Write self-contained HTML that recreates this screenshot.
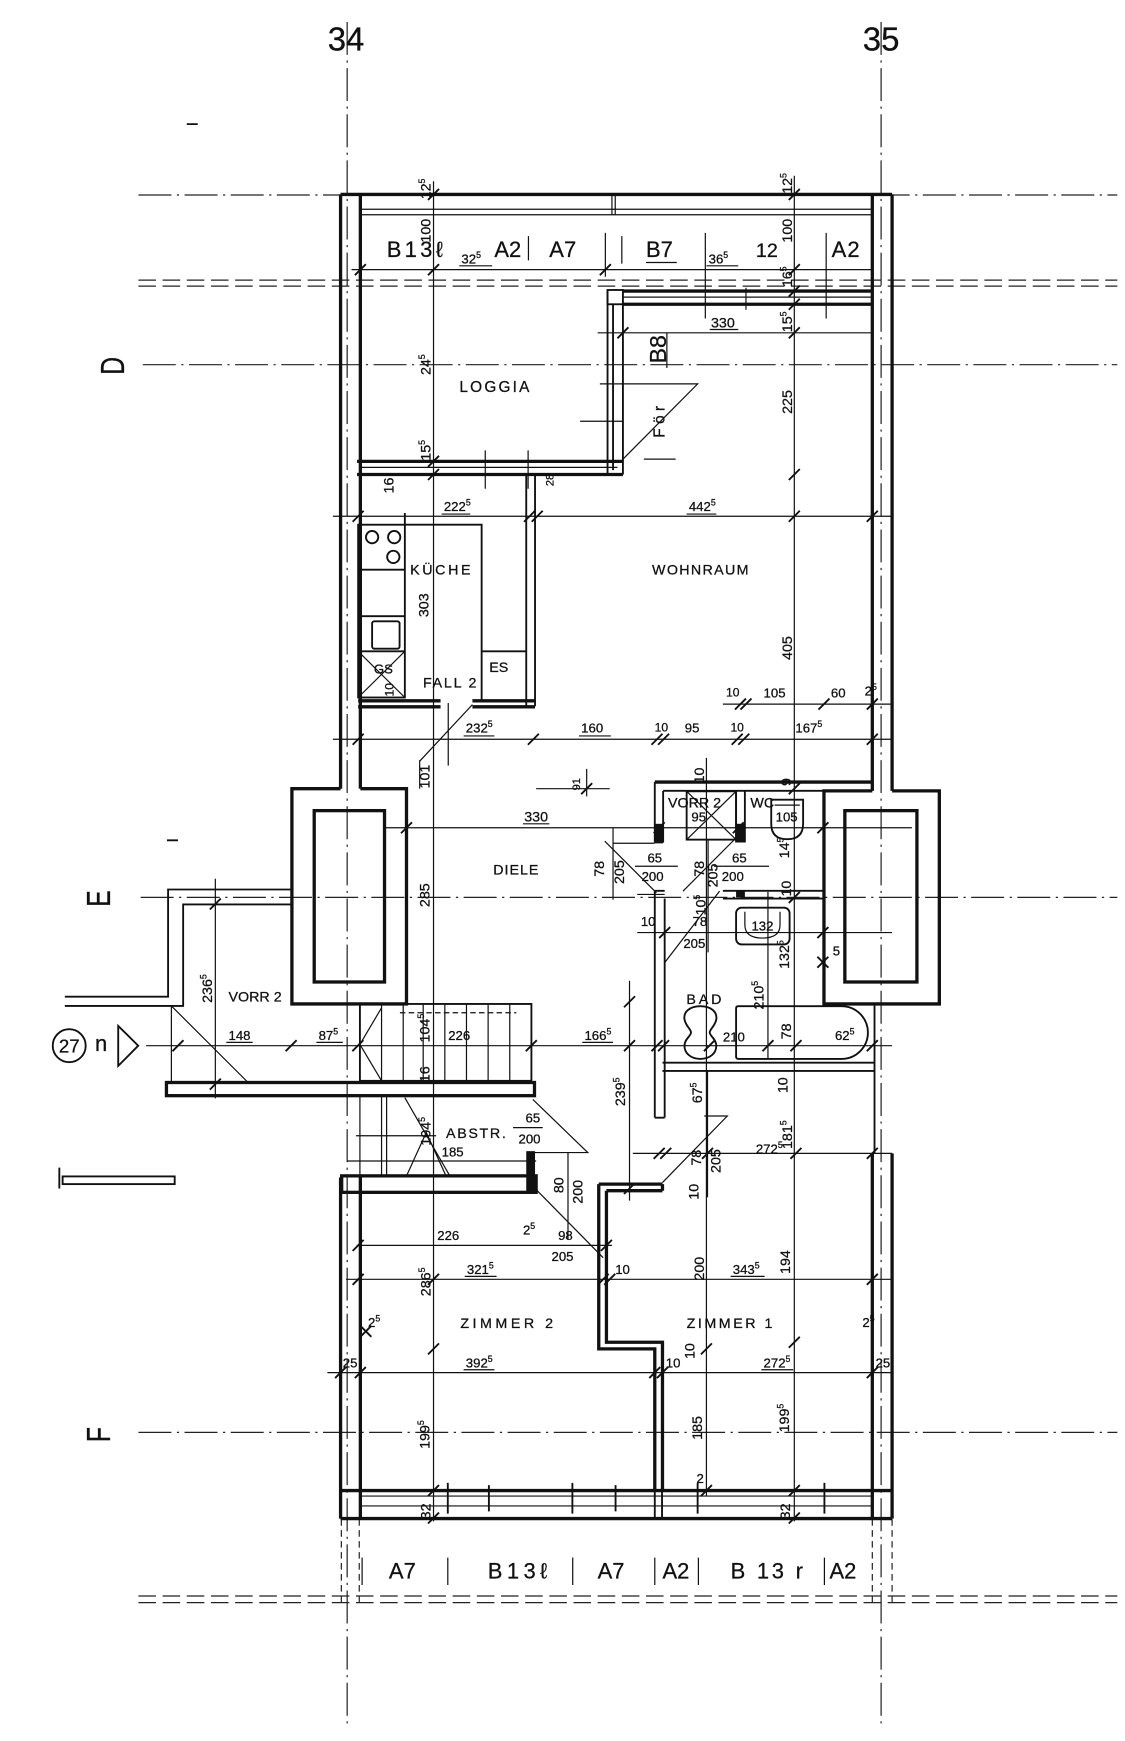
<!DOCTYPE html>
<html><head><meta charset="utf-8"><style>
html,body{margin:0;padding:0;background:#fff;}
svg{display:block}
.t{font-family:"Liberation Sans","DejaVu Sans",sans-serif;fill:#111;stroke:#111;stroke-width:0.25}
.n{font-size:12px}
.rn{font-size:13px}
.r{font-size:13px}
.h{font-size:20px}
.l{stroke:#111;stroke-width:1.1;fill:none}
.m{stroke:#111;stroke-width:1.7;fill:none}
.w{stroke:#111;stroke-width:3;fill:none}
.g{stroke:#222;stroke-width:1.1;fill:none;stroke-dasharray:30 5 2 5}
.dd{stroke:#222;stroke-width:1.1;fill:none;stroke-dasharray:16 6}
.ds{stroke:#222;stroke-width:1.1;fill:none;stroke-dasharray:6 4}
</style></head><body>
<svg width="1125" height="1741" viewBox="0 0 1024 1585" preserveAspectRatio="none" xmlns="http://www.w3.org/2000/svg">
<rect width="1024" height="1585" fill="#fff"/>

<!-- grid lines -->
<path class="g" d="M316 20V1572M802 20V1572"/>
<path class="g" d="M126 177.5H1017M130 332H1017M128 817H1017M126 1304H1017"/>
<path class="dd" d="M126 255H1017M126 260.5H1017M126 1453H1017M126 1459H1017"/>
<path class="ds" d="M310.7 1383V1459M327 1383V1459M794 1383V1459M812 1383V1459"/>
<text class="t" x="315" y="46" font-size="30" text-anchor="middle">34</text>
<text class="t" x="802" y="46" font-size="30" text-anchor="middle">35</text>
<text class="t" font-size="30" stroke-width="1" text-anchor="middle" transform="translate(113,333) rotate(-90) scale(0.75,1)">D</text>
<text class="t" font-size="30" stroke-width="0.6" text-anchor="middle" transform="translate(100,818) rotate(-90) scale(0.75,1)">E</text>
<text class="t" font-size="30" stroke-width="0.6" text-anchor="middle" transform="translate(100,1306) rotate(-90) scale(0.75,1)">F</text>
<path class="m" d="M170 113H180M152 765H162"/>

<!-- outer walls -->
<path class="w" d="M310 177V718M328 177V718M794 177V720M812 177V720"/>
<path class="w" d="M310 177H812"/>
<path class="l" d="M328 190.5H794M328 195.5H794M557 177V196M560 177V196"/>
<path class="w" d="M310 1072V1382.5M328 1072V1382.5M794 1050V1382.5M812 1050V1382.5"/>
<path class="w" d="M310 1357H812M310 1382.5H812"/>
<path class="l" d="M328 1362H794M328 1371H794"/>
<path class="m" d="M407.6 1350V1378M445 1352V1376M521 1350V1378M560.3 1352V1376M596 1350V1382M602.6 1350V1382M635 1350V1378M750.4 1350V1378"/>
<path class="m" stroke-width="2.2" d="M796 914V1050"/>

<!-- top dimension & strip labels -->
<path class="l" d="M320 245.5H794"/>
<path class="l" d="M481 215V237M551 212V252M566 215V240M642 212V290M752 212V290M679 262V282"/>
<text class="t h" x="352" y="234" letter-spacing="3">B13ℓ</text>
<text class="t n" x="420" y="240">32<tspan font-size="8" dy="-5">5</tspan></text>
<path class="l" d="M418 242H448M643 242H672M588 239H616"/>
<text class="t h" x="450" y="234">A2</text>
<text class="t h" x="500" y="234">A7</text>
<text class="t h" x="588" y="234">B7</text>
<text class="t n" x="645" y="240">36<tspan font-size="8" dy="-5">5</tspan></text>
<text class="t" font-size="18" x="688" y="234">12</text>
<text class="t h" x="757" y="234" letter-spacing="1">A2</text>

<!-- vertical dim lines -->
<path class="l" d="M394.6 165V1385M723 160V1385M643 690V1362M573 893V1093M196 800V1000M517 1049V1128M558 754V819M644.5 764V867M699 812V964M644 975V1090"/>

<!-- rotated dimension texts -->
<g class="t rn" text-anchor="middle">
<text transform="translate(392,172) rotate(-90)">12<tspan font-size="8" dy="-5">5</tspan></text>
<text transform="translate(392,210) rotate(-90)">100</text>
<text transform="translate(392,332) rotate(-90)">24<tspan font-size="8" dy="-5">5</tspan></text>
<text transform="translate(392,410) rotate(-90)">15<tspan font-size="8" dy="-5">5</tspan></text>
<text transform="translate(721,167) rotate(-90)">12<tspan font-size="8" dy="-5">5</tspan></text>
<text transform="translate(721,210) rotate(-90)">100</text>
<text transform="translate(721,252) rotate(-90)">16<tspan font-size="8" dy="-5">5</tspan></text>
<text transform="translate(721,293) rotate(-90)">15<tspan font-size="8" dy="-5">5</tspan></text>
<text transform="translate(721,366) rotate(-90)">225</text>
<text transform="translate(721,590) rotate(-90)">405</text>
<text transform="translate(358,442) rotate(-90)">16</text>
<text transform="translate(504,437) rotate(-90)" font-size="10">28</text>
<text transform="translate(390,551) rotate(-90)">303</text>
<text transform="translate(358,628) rotate(-90)" font-size="11">10</text>
<text transform="translate(391,707) rotate(-90)">101</text>
<text transform="translate(528,714) rotate(-90)" font-size="10">91</text>
<text transform="translate(391,815) rotate(-90)">285</text>
<text transform="translate(641,706) rotate(-90)">10</text>
<text transform="translate(720,712) rotate(-90)">9</text>
<text transform="translate(718,772) rotate(-90)">14<tspan font-size="8" dy="-5">5</tspan></text>
<text transform="translate(550,791) rotate(-90)">78</text>
<text transform="translate(568,794) rotate(-90)">205</text>
<text transform="translate(641,791) rotate(-90)">78</text>
<text transform="translate(653,797) rotate(-90)">205</text>
<text transform="translate(642,824) rotate(-90)">10<tspan font-size="8" dy="-5">5</tspan></text>
<text transform="translate(720,809) rotate(-90)">10</text>
<text transform="translate(718,869) rotate(-90)">132<tspan font-size="8" dy="-5">5</tspan></text>
<text transform="translate(193,900) rotate(-90)">236<tspan font-size="8" dy="-5">5</tspan></text>
<text transform="translate(391,936) rotate(-90)">104<tspan font-size="8" dy="-5">5</tspan></text>
<text transform="translate(391,978) rotate(-90)">16</text>
<text transform="translate(695,906) rotate(-90)">210<tspan font-size="8" dy="-5">5</tspan></text>
<text transform="translate(720,939) rotate(-90)">78</text>
<text transform="translate(717,988) rotate(-90)">10</text>
<text transform="translate(639,995) rotate(-90)">67<tspan font-size="8" dy="-5">5</tspan></text>
<text transform="translate(569,994) rotate(-90)">239<tspan font-size="8" dy="-5">5</tspan></text>
<text transform="translate(392,1030) rotate(-90)">104<tspan font-size="8" dy="-5">5</tspan></text>
<text transform="translate(513,1079) rotate(-90)">80</text>
<text transform="translate(530,1085) rotate(-90)">200</text>
<text transform="translate(638,1054) rotate(-90)">78</text>
<text transform="translate(656,1057) rotate(-90)">205</text>
<text transform="translate(636,1085) rotate(-90)">10</text>
<text transform="translate(721,1033) rotate(-90)">181<tspan font-size="8" dy="-5">5</tspan></text>
<text transform="translate(641,1155) rotate(-90)">200</text>
<text transform="translate(719,1149) rotate(-90)">194</text>
<text transform="translate(392,1167) rotate(-90)">286<tspan font-size="8" dy="-5">5</tspan></text>
<text transform="translate(632,1230) rotate(-90)">10</text>
<text transform="translate(391,1306) rotate(-90)">199<tspan font-size="8" dy="-5">5</tspan></text>
<text transform="translate(639,1300) rotate(-90)">185</text>
<text transform="translate(718,1291) rotate(-90)">199<tspan font-size="8" dy="-5">5</tspan></text>
<text transform="translate(392,1376) rotate(-90)">32</text>
<text transform="translate(719,1376) rotate(-90)">32</text>
</g>

<!-- loggia -->
<path class="m" d="M553 264V432M567 277V432M558 277V428"/>
<rect class="m" x="553" y="264" width="14" height="13"/>
<path class="w" stroke-width="2.2" d="M567 265H794M567 277H794"/>
<path class="l" d="M567 270.5H794"/>
<path class="w" stroke-width="2.6" d="M325 420H567M325 432H567"/>
<path class="l" d="M328 425.5H562M441.7 410V445M480.7 410V445"/>
<path class="l" d="M546 349.5H635L567 418M528 383.5H567M586 418H615"/>
<path class="l" d="M544 303H794M607 303V335"/>
<text class="t r" x="658" y="298" text-anchor="middle">330</text>
<path class="l" d="M646 300H672"/>
<text class="t" font-size="21" text-anchor="middle" transform="translate(606,318) rotate(-90)">B8</text>
<text class="t" font-size="14" letter-spacing="4" text-anchor="middle" transform="translate(605,382) rotate(-90)">För</text>
<text class="t" font-size="14" letter-spacing="2" x="451" y="357" text-anchor="middle">LOGGIA</text>

<!-- kitchen -->
<path class="l" d="M303 470H812"/>
<text class="t n" x="404" y="465">222<tspan font-size="8" dy="-5">5</tspan></text>
<text class="t n" x="627" y="465">442<tspan font-size="8" dy="-5">5</tspan></text>
<path class="l" d="M402 468H428M625 468H652"/>
<path class="m" d="M479 432V643M487 432V643"/>
<rect class="m" x="326" y="477.7" width="42.5" height="157.3"/>
<path class="m" d="M326 518.6H368.5M326 561H368.5M326 593H368.5M368.5 467V477.7"/>
<path class="m" d="M368.5 477.7H438.4V637M438.4 593H479"/>
<circle class="m" cx="338.7" cy="489" r="5.6"/>
<circle class="m" cx="358.8" cy="489" r="5.6"/>
<circle class="m" cx="358" cy="507" r="5.6"/>
<rect class="m" x="338.7" y="565.6" width="25" height="25" rx="2"/>
<path class="l" d="M326 593L368.5 635M368.5 593L326 635"/>
<path class="w" stroke-width="2.2" d="M326 638H401M326 643.5H401M430 638H487M430 643.5H487"/>
<path class="l" d="M430 641.5L382 693M408 640V697M382 692V718"/>
<text class="t r" x="402" y="523" text-anchor="middle" letter-spacing="2.4">KÜCHE</text>
<text class="t n" x="349" y="613" text-anchor="middle">GS</text>
<text class="t r" x="385" y="626" letter-spacing="1.6">FALL 2</text>
<text class="t r" x="454" y="612" text-anchor="middle">ES</text>
<text class="t r" x="638" y="523" text-anchor="middle" letter-spacing="1.2">WOHNRAUM</text>

<!-- dim lines around 641/673 -->
<path class="l" d="M658 641H812M303 673H812"/>
<text class="t" font-size="11" x="667" y="634" text-anchor="middle">10</text>
<text class="t n" x="705" y="635" text-anchor="middle">105</text>
<text class="t n" x="763" y="635" text-anchor="middle">60</text>
<text class="t n" x="787" y="633">2<tspan font-size="8" dy="-5">5</tspan></text>
<text class="t n" x="424" y="667">232<tspan font-size="8" dy="-5">5</tspan></text>
<text class="t n" x="529" y="667">160</text>
<text class="t" font-size="11" x="602" y="666" text-anchor="middle">10</text>
<text class="t n" x="630" y="667" text-anchor="middle">95</text>
<text class="t" font-size="11" x="671" y="666" text-anchor="middle">10</text>
<text class="t n" x="724" y="667">167<tspan font-size="8" dy="-5">5</tspan></text>
<path class="l" d="M422 670H450M527 670H556"/>

<!-- diele -->
<path class="l" d="M488 718H555M534 700V725"/>
<path class="l" d="M350 753.6H830"/>
<text class="t r" x="488" y="748" text-anchor="middle">330</text>
<path class="l" d="M476 750H500"/>
<text class="t r" x="470" y="796" text-anchor="middle" letter-spacing="0.9">DIELE</text>

<!-- left shaft -->
<path class="w" stroke-width="2.6" d="M310 718H265.7V914H370V718H328"/>
<rect class="w" stroke-width="2.6" x="286" y="738" width="64" height="156"/>
<!-- right shaft -->
<path class="w" stroke-width="2.6" d="M794 720H750V914H855V720H812"/>
<rect class="w" stroke-width="2.6" x="769" y="738" width="65.6" height="156"/>

<!-- VORR2 / WC block -->
<path class="w" stroke-width="2.4" d="M596 712H794"/>
<path class="m" d="M603.6 720H750M596 712V767M603.6 720V767M596 767H603.6M670 720V767M678 720V767"/>
<rect fill="#111" x="596" y="750" width="8" height="17"/>
<rect fill="#111" x="670" y="750" width="8" height="17"/>
<rect class="m" x="625" y="720.4" width="45" height="44"/>
<path class="l" d="M625 720.4L670 764.4M670 720.4L625 764.4"/>
<path class="m" d="M702 728H731V750Q731 764 716.5 764Q702 764 702 750Z"/>
<path class="l" d="M705 733H728"/>
<text class="t r" x="608" y="735">VORR 2</text>
<text class="t n" x="636" y="748" text-anchor="middle">95</text>
<text class="t r" x="683" y="735">WC</text>
<text class="t n" x="716" y="748" text-anchor="middle">105</text>
<path class="m" d="M596 811V1017.5M605 818V1017.5M596 1017.5H605M596 811H605"/>
<path class="m" d="M658 811H750M658 818H750"/>
<rect fill="#111" x="670" y="811" width="8" height="6"/>
<path class="m" d="M603 967.5H796M603 975H796"/>
<path class="l" d="M550.5 765.8L597.5 812.8M670 762.8L621.7 811.3M655 811.3L605 876.4M558 767.7H596"/>
<path class="l" d="M578 788.6H617M650 788.6H700M580 814.3H605M580 849H812"/>
<text class="t n" x="596" y="785" text-anchor="middle">65</text>
<text class="t n" x="594" y="802" text-anchor="middle">200</text>
<text class="t n" x="673" y="785" text-anchor="middle">65</text>
<text class="t n" x="667" y="802" text-anchor="middle">200</text>
<text class="t n" x="590" y="843" text-anchor="middle">10</text>
<text class="t n" x="637" y="843" text-anchor="middle">78</text>
<text class="t n" x="632" y="863" text-anchor="middle">205</text>
<rect class="m" x="670" y="826.4" width="48.7" height="33.4" rx="5"/>
<path class="l" d="M678 830V842Q678 854 694 854Q710 854 710 842V830"/>
<text class="t n" x="694" y="847" text-anchor="middle">132</text>
<text class="t n" x="758" y="870">5</text>

<!-- bath -->
<path class="m" d="M672 916H766A24 24 0 0 1 766 964H672Q670 964 670 962V918Q670 916 672 916Z"/>
<path class="m" d="M637.5 916C628 916 622 921 623 928C624 934 629 937 629 940C629 943 623 946 623 952C623 959 629 964 637.5 964C646 964 652 959 652 952C652 946 646 943 646 940C646 937 651 934 652 928C653 921 647 916 637.5 916Z"/>
<text class="t r" x="642" y="914" text-anchor="middle" letter-spacing="2.6">BAD</text>
<text class="t n" x="658" y="948">210</text>
<text class="t n" x="760" y="947">62<tspan font-size="8" dy="-5">5</tspan></text>

<!-- left protrusion VORR 2 -->
<path class="m" d="M266 809.8H153V907.4H59M266 823.4H166.7V915.8H59"/>
<path class="l" d="M156 915.8V987M156 915.8L225.8 985.5"/>
<text class="t r" x="208" y="912">VORR 2</text>
<path class="l" d="M133 952H812"/>
<text class="t n" x="218" y="947" text-anchor="middle">148</text>
<text class="t n" x="290" y="947">87<tspan font-size="8" dy="-5">5</tspan></text>
<text class="t n" x="408" y="947">226</text>
<text class="t n" x="532" y="947">166<tspan font-size="8" dy="-5">5</tspan></text>
<path class="l" d="M206 949H230M288 949H312M530 949H558"/>
<circle class="m" cx="63" cy="952" r="15"/>
<text class="t" font-size="17" x="63" y="958" text-anchor="middle">27</text>
<text class="t" font-size="20" x="92" y="957" text-anchor="middle">n</text>
<path class="m" d="M107.6 934L125.8 952L107.6 970.4Z"/>
<path class="m" stroke-width="2" d="M54 1063V1082"/>
<rect class="m" x="57" y="1071" width="102" height="7"/>

<!-- stairs -->
<rect class="m" x="327.6" y="914" width="156.1" height="70"/>
<path class="l" d="M347.3 914V984M367 914V984M385.2 914V984M404.9 914V984M424.6 914V984M444.3 914V984M464 914V984"/>
<path class="l" stroke-dasharray="5 3" d="M364 922H470"/>
<path class="l" d="M327.6 950.8L347.3 917.5M327.6 950.8L347.3 984"/>
<rect class="w" stroke-width="2.6" x="151.5" y="985.5" width="335" height="12"/>
<path class="l" d="M327.6 997.7V1070.5M347.3 997.7V1070.5M351.9 997.7V1070.5M324 1034H397M316 1057H488"/>
<path class="l" d="M368.5 999.3L409.4 1070.5M370 1070.6L388 1031L406 1070.6"/>
<rect class="w" stroke-width="2.6" x="311" y="1070.5" width="177" height="15"/>
<rect fill="#111" x="479" y="1048" width="8" height="37"/>
<path class="l" d="M485 1000.9L535 1049.3H486M467 1026.6H494"/>
<text class="t r" x="406" y="1036" letter-spacing="1.5">ABSTR.</text>
<text class="t n" x="485" y="1022" text-anchor="middle">65</text>
<text class="t n" x="482" y="1041" text-anchor="middle">200</text>
<text class="t n" x="402" y="1053">185</text>

<!-- corridor / zimmer -->
<path class="l" d="M641 1016H662L603 1076.6M576 1050H812"/>
<text class="t n" x="688" y="1050">272<tspan font-size="8" dy="-5">5</tspan></text>
<path class="w" stroke-width="2.2" d="M545 1078V1228H596V1357M552 1084V1222H603V1357M545 1078H603M552 1084H603M603 1078V1084"/>
<path class="l" d="M488 1083L549 1145M324.7 1133.8H557"/>
<text class="t n" x="398" y="1129">226</text>
<text class="t n" x="508" y="1129">98</text>
<text class="t n" x="502" y="1148">205</text>
<text class="t n" x="476" y="1124">2<tspan font-size="8" dy="-5">5</tspan></text>
<path class="l" d="M315 1164.7H812"/>
<text class="t n" x="425" y="1160">321<tspan font-size="8" dy="-5">5</tspan></text>
<text class="t n" x="560" y="1160">10</text>
<text class="t n" x="667" y="1160">343<tspan font-size="8" dy="-5">5</tspan></text>
<path class="l" d="M423 1162H452M665 1162H696"/>
<text class="t r" x="419" y="1209" letter-spacing="3.2">ZIMMER 2</text>
<text class="t r" x="625" y="1209" letter-spacing="2.3">ZIMMER 1</text>
<text class="t n" x="335" y="1208">2<tspan font-size="8" dy="-5">5</tspan></text>
<text class="t n" x="785" y="1208">2<tspan font-size="8" dy="-5">5</tspan></text>
<path class="l" d="M298 1249.6H812"/>
<text class="t n" x="424" y="1245">392<tspan font-size="8" dy="-5">5</tspan></text>
<text class="t n" x="695" y="1245">272<tspan font-size="8" dy="-5">5</tspan></text>
<path class="l" d="M422 1247H450M693 1247H722"/>
<text class="t n" x="312" y="1245">25</text>
<text class="t n" x="797" y="1245">25</text>
<text class="t n" x="606" y="1245">10</text>
<text class="t n" x="634" y="1350">2</text>

<!-- bottom labels -->
<path class="l" d="M329.6 1418V1443M407.6 1418V1443M521.3 1418V1443M596 1418V1443M635.7 1418V1443M750.4 1418V1443"/>
<text class="t h" x="354" y="1437">A7</text>
<text class="t h" x="444" y="1437" letter-spacing="4">B13ℓ</text>
<text class="t h" x="544" y="1437">A7</text>
<text class="t h" x="603" y="1437">A2</text>
<text class="t h" x="665" y="1437" letter-spacing="2.5">B 13 r</text>
<text class="t h" x="755" y="1437">A2</text>

<!-- dimension ticks -->
<path class="m" d="
M323 250.5l10 -10M389.6 250.5l10 -10M546 250.5l10 -10M718 250.5l10 -10
M389.6 182l10 -10M718 182l10 -10M389.6 425l10 -10M389.6 437l10 -10M718 270l10 -10M718 282l10 -10
M562 308l10 -10M718 308l10 -10M718 437l10 -10
M321 475l10 -10M477 475l10 -10M484 475l10 -10M718 475l10 -10M789 475l10 -10
M669 646l10 -10M674 646l10 -10M745 646l10 -10M789 646l10 -10
M321 678l10 -10M480.5 678l10 -10M593 678l10 -10M599 678l10 -10M666 678l10 -10M672 678l10 -10M789 678l10 -10
M529 723l10 -10M365 758.6l10 -10M595 758.6l10 -10M667 758.6l10 -10M744 758.6l10 -10
M600 854l10 -10M744 854l10 -10M718 822l10 -10M718 723l10 -10
M157 957l10 -10M260 957l10 -10M320.7 957l10 -10M478.6 957l10 -10M568 957l10 -10M593 957l10 -10M599 957l10 -10M640.7 957l10 -10M694 957l10 -10M719.5 957l10 -10M789 957l10 -10
M191 828l10 -10M191 992l10 -10M568 917l10 -10M568 1087l10 -10
M595 1055l10 -10M601 1055l10 -10M639 1055l10 -10M719.5 1055l10 -10M789 1055l10 -10
M321 1138.8l10 -10M547 1138.8l10 -10
M321 1169.7l10 -10M389.6 1169.7l10 -10M544 1169.7l10 -10M550 1169.7l10 -10M789 1169.7l10 -10
M305 1254.6l10 -10M323 1254.6l10 -10M591 1254.6l10 -10M598 1254.6l10 -10M789 1254.6l10 -10
M389.6 1233l10 -10M638 1233l10 -10M718 1227l10 -10
M389.6 1362l10 -10M389.6 1387l10 -10M638 1362l10 -10M718 1362l10 -10M718 1387l10 -10
M328 1217l10 -10M328 1207l10 10M744 881l10 -10M744 871l10 10"/>
</svg>
</body></html>
